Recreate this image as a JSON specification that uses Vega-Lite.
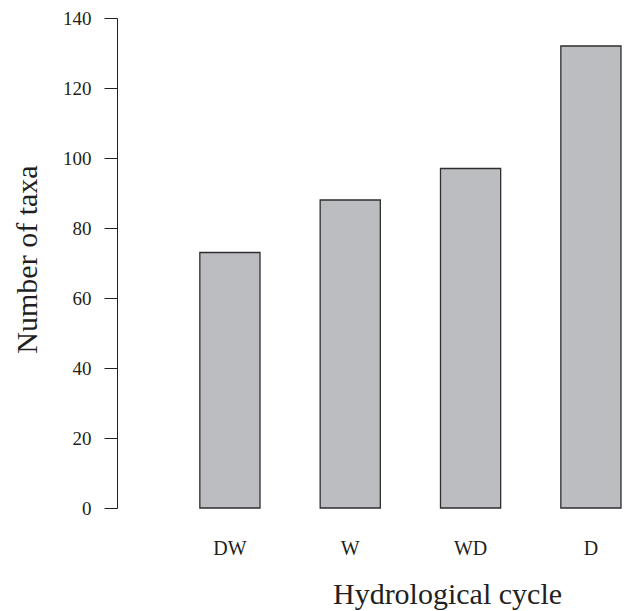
{
  "$schema": "https://vega.github.io/schema/vega-lite/v6.json",
  "autosize": {"type": "none"},
  "padding": {"left": 117, "top": 18, "right": 4, "bottom": 103},
  "width": 509,
  "height": 490,
  "background": "white",
  "config": {"view": {"stroke": null}, "font": "Liberation Serif"},
  "data": {"values": [
    {"cycle": "DW", "taxa": 73},
    {"cycle": "W", "taxa": 88},
    {"cycle": "WD", "taxa": 97},
    {"cycle": "D", "taxa": 132}
  ]},
  "mark": {"type": "bar", "fill": "#bcbdc1", "stroke": "#2e2e2e", "strokeWidth": 1.3},
  "encoding": {
    "x": {
      "field": "cycle", "type": "nominal", "sort": null,
      "scale": {"paddingInner": 0.5, "paddingOuter": 0.365, "align": 0.943},
      "axis": {
        "title": "Hydrological cycle", "domain": false, "ticks": false, "tickSize": 0,
        "labelAngle": 0, "labelFont": "Liberation Serif", "labelFontSize": 20, "labelColor": "#231f20",
        "labelBaseline": "alphabetic", "labelPadding": 46,
        "titleFont": "Liberation Serif", "titleFontSize": 30, "titleFontWeight": "normal", "titleColor": "#231f20",
        "titleBaseline": "alphabetic", "titleY": 95, "titleX": 330, "titleAlign": "center"
      }
    },
    "y": {
      "field": "taxa", "type": "quantitative",
      "scale": {"domain": [0, 140], "nice": false},
      "axis": {
        "title": "Number of taxa", "values": [0, 20, 40, 60, 80, 100, 120, 140], "grid": false,
        "domainColor": "#231f20", "tickColor": "#231f20", "tickSize": 13, "domainWidth": 1, "tickWidth": 1,
        "labelFont": "Liberation Serif", "labelFontSize": 19, "labelColor": "#231f20", "labelPadding": 13,
        "titleFont": "Liberation Serif", "titleFontSize": 30, "titleFontWeight": "normal", "titleColor": "#231f20",
        "titleAngle": -90, "titleBaseline": "alphabetic", "titleX": -81, "titleY": 241, "titleAlign": "center"
      }
    }
  }
}
